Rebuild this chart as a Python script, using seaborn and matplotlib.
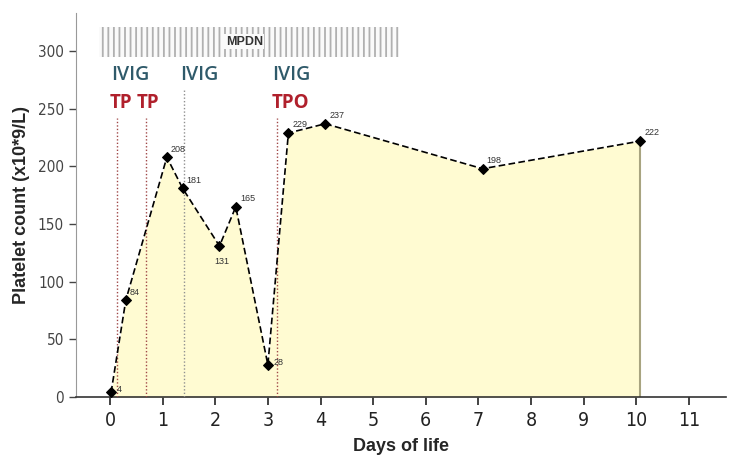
import pandas as pd
import matplotlib.pyplot as plt
import seaborn as sns

days = [0.02, 0.3, 1.08, 1.38, 2.08, 2.39, 3.0, 3.39, 4.09, 7.08, 10.08]
platelets = [4, 84, 208, 181, 131, 165, 28, 229, 237, 198, 222]

tp_days = [0.13, 0.68, 3.17]
tp_labels = ['TP', 'TP', 'TPO']
tp_label_x = [0.0, 0.51, 3.08]
ivig_line_days = [1.41]
ivig_label_x = [0.02, 1.33, 3.08]
mpdn_span = (-0.2, 5.5)

df = pd.DataFrame({'Days of life': days, 'Platelet count': platelets})

sns.set_style('white')
plt.rcParams['font.family'] = ['Liberation Sans', 'DejaVu Sans']

fig = plt.figure(figsize=(7.36, 4.65), dpi=100)
ax = fig.add_axes([0.103, 0.146, 0.883, 0.826])

ax.fill_between(df['Days of life'], df['Platelet count'], 0, color='#fffbd2', lw=0, zorder=1)
ax.plot([days[-1], days[-1]], [0, platelets[-1]], color='#a8a480', lw=1.5, zorder=2)

sns.lineplot(data=df, x='Days of life', y='Platelet count', ax=ax, color='black',
             lw=1.2, linestyle=(0, (4, 2)), marker='D', markersize=5,
             markeredgecolor='black', zorder=4)

# data labels
offsets = {131: (-4, -13), 28: (4, 0), 4: (4, 0)}
for d, p in zip(days, platelets):
    dx, dy = offsets.get(p, (3, 4))
    ax.annotate(str(p), (d, p), xytext=(dx, dy), textcoords='offset points',
                fontsize=6.5, color='#333333', zorder=5)

# treatment lines
for d in tp_days:
    ax.plot([d, d], [0, 242], color='#a04848', lw=1, linestyle=(0, (1, 1.5)), zorder=3)
for d in ivig_line_days:
    ax.plot([d, d], [0, 268], color='#909090', lw=1, linestyle=(0, (1, 1.5)), zorder=3)

for x, lab in zip(tp_label_x, tp_labels):
    ax.text(x, 255, lab, color='#b0202c', fontsize=13.5, fontweight='bold',
            ha='left', va='center', family=['Open Sans', 'DejaVu Sans'])
for x in ivig_label_x:
    ax.text(x, 279, 'IVIG', color='#2f5a6a', fontsize=14, fontweight='semibold',
            ha='left', va='center', family=['Open Sans', 'DejaVu Sans'])

# MPDN bar
plt.rcParams['hatch.color'] = '#b0b0b0'
plt.rcParams['hatch.linewidth'] = 1.3
ax.fill_between(mpdn_span, 295, 321, facecolor='#fafafa', edgecolor='#b0b0b0',
                hatch='|||', lw=0, zorder=2)
ax.text(sum(mpdn_span) / 2 - 0.1, 308, 'MPDN', fontsize=9, fontweight='bold',
        color='#333333', ha='center', va='center', zorder=3,
        bbox=dict(facecolor='#fafafa', edgecolor='none', pad=1))

ax.set_xlim(-0.65, 11.7)
ax.set_ylim(0, 333)
ax.set_xticks(range(0, 12))
ax.set_yticks(range(0, 301, 50))
ax.tick_params(axis='x', labelsize=14, length=6, width=1.2, direction='out', bottom=True,
               pad=4, colors='#222222')
ax.tick_params(axis='y', labelsize=11, length=5, width=1, direction='out', left=True,
               colors='#444444')
for t in ax.get_xticklabels() + ax.get_yticklabels():
    t.set_family('DejaVu Sans')
    t.set_stretch('condensed')
ax.set_xlabel('Days of life', fontsize=13, fontweight='bold', labelpad=6)
ax.set_ylabel('Platelet count (x10*9/L)', fontsize=13, fontweight='bold', labelpad=6)

sns.despine(ax=ax)
ax.spines['left'].set_color('#999999')
ax.spines['bottom'].set_color('#333333')
ax.spines['bottom'].set_linewidth(1.2)

plt.savefig('out.png', dpi=100)
